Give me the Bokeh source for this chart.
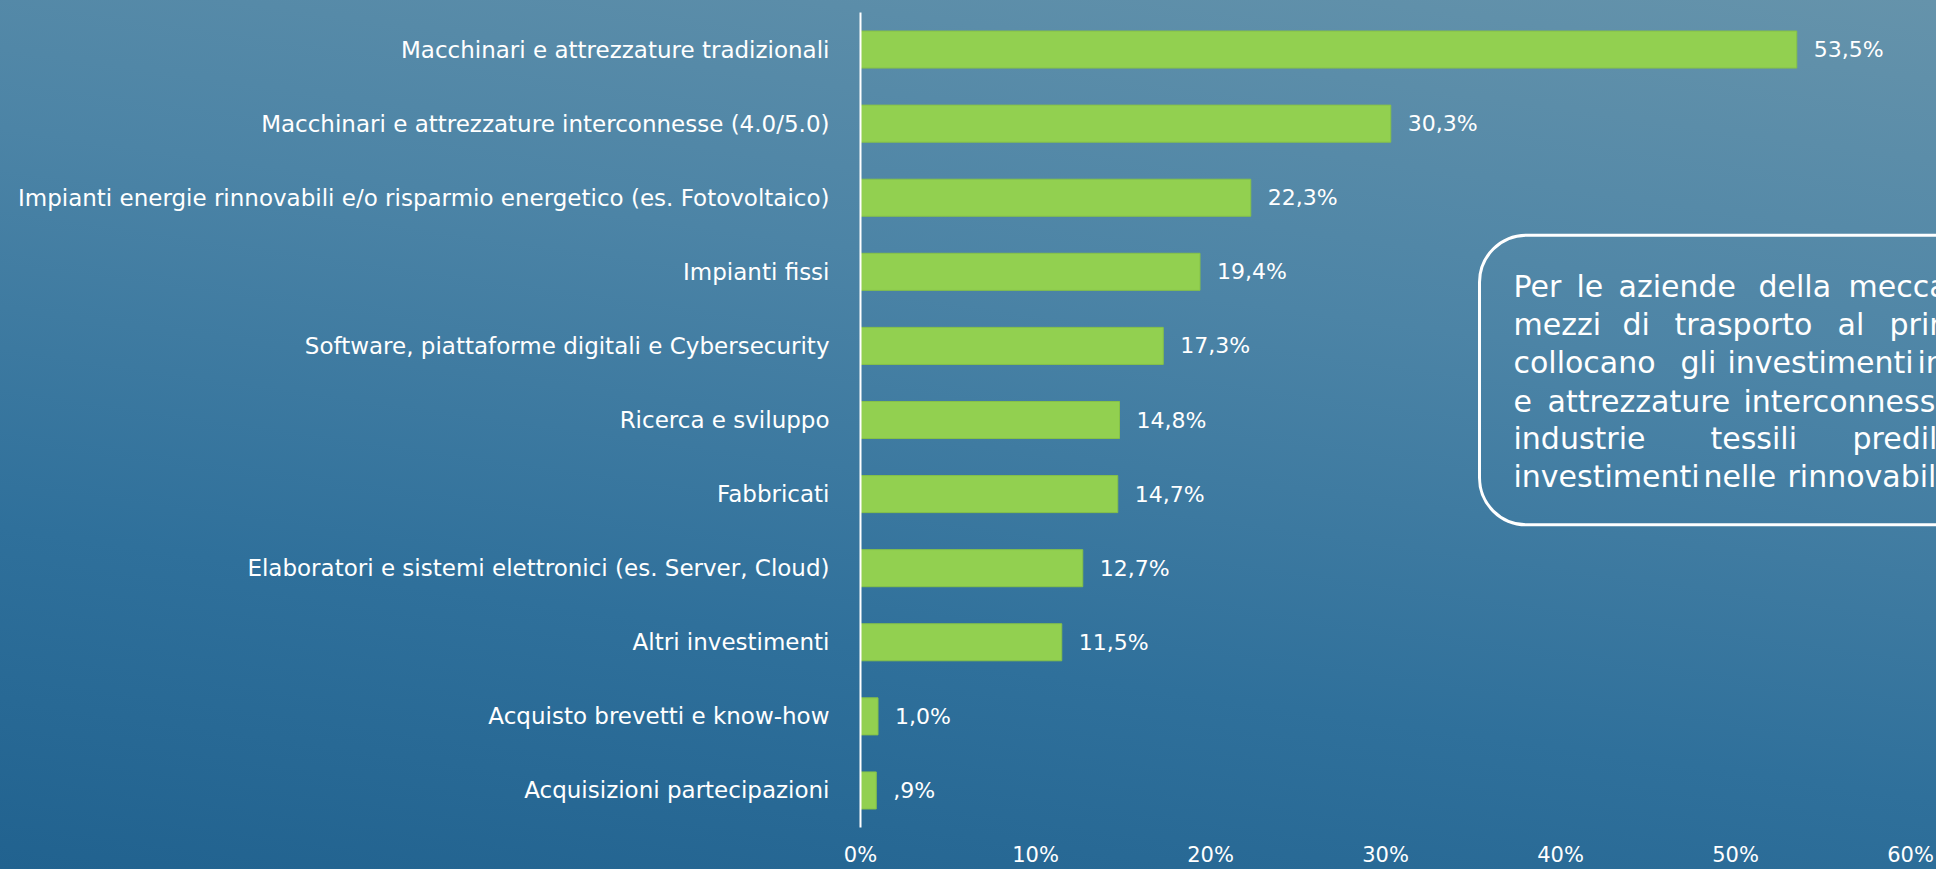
from bokeh.plotting import figure
from bokeh.models import FactorRange, Range1d, BoxAnnotation, FixedTicker
from bokeh.core.properties import value
from bokeh.embed import file_html
from bokeh.resources import INLINE

# ---------------- data ----------------
categories = [
    "Macchinari e attrezzature tradizionali",
    "Macchinari e attrezzature interconnesse (4.0/5.0)",
    "Impianti energie rinnovabili e/o risparmio energetico (es. Fotovoltaico)",
    "Impianti fissi",
    "Software, piattaforme digitali e Cybersecurity",
    "Ricerca e sviluppo",
    "Fabbricati",
    "Elaboratori e sistemi elettronici (es. Server, Cloud)",
    "Altri investimenti",
    "Acquisto brevetti e know-how",
    "Acquisizioni partecipazioni",
]
values = [53.5, 30.3, 22.3, 19.4, 17.3, 14.8, 14.7, 12.7, 11.5, 1.0, 0.9]
x_ticks = [0, 10, 20, 30, 40, 50, 60]
x_tick_labels = ["0%", "10%", "20%", "30%", "40%", "50%", "60%"]

# visible part of the note (cut by the right edge, as in the original)
note_lines = [
    ["Per", "le", "aziende", "della", "meccanica"],
    ["mezzi", "di", "trasporto", "al", "primo"],
    ["collocano", "gli", "investimenti", "in"],
    ["e", "attrezzature", "interconnesse,"],
    ["industrie", "tessili", "prediligono"],
    ["investimenti", "nelle", "rinnovabili."],
]


def fmt(v):
    s = f"{v:.1f}".replace(".", ",")
    return s[1:] if s.startswith("0,") else s


value_labels = [fmt(v) + "%" for v in values]

# ---------------- layout ----------------
FONT = "DejaVu Sans"
W, H = 1936, 869
LEFT, TOP, BOTTOM = 860, 12, 41
FRAME_W = W - LEFT
FRAME_H = H - TOP - BOTTOM
PX_PER_PCT = 17.5
X_END = FRAME_W / PX_PER_PCT
N = len(categories)
PX_PER_CAT = FRAME_H / N


# pixel -> data helpers (for the note box/text only)
def dx(px):
    return (px - LEFT) / PX_PER_PCT


def dy(py):
    return N - (py - TOP) / PX_PER_CAT


p = figure(
    width=W, height=H,
    y_range=FactorRange(factors=categories[::-1]),
    x_range=Range1d(0, X_END),
    output_backend="svg", toolbar_location=None,
    min_border_left=LEFT, min_border_right=0,
    min_border_top=TOP, min_border_bottom=BOTTOM,
    border_fill_color=None, background_fill_color=None,
    outline_line_color=None,
)
p.styles = {"background": "linear-gradient(188deg, #6593ab 0%, #4c84a6 35%, #2f709b 70%, #21628f 100%)"}

p.xgrid.visible = False
p.ygrid.visible = False

xa = p.xaxis[0]
xa.ticker = FixedTicker(ticks=x_ticks)
xa.major_label_overrides = {t: l for t, l in zip(x_ticks, x_tick_labels)}
xa.axis_line_color = None
xa.major_tick_line_color = None
xa.minor_tick_line_color = None
xa.major_tick_out = 0
xa.major_label_standoff = 15
xa.major_label_text_color = "white"
xa.major_label_text_font = FONT
xa.major_label_text_font_size = "21px"

ya = p.yaxis[0]
ya.axis_line_color = "white"
ya.axis_line_width = 2
ya.major_tick_line_color = None
ya.minor_tick_line_color = None
ya.major_tick_out = 0
ya.major_label_standoff = 31
ya.major_label_text_color = "white"
ya.major_label_text_font = FONT
ya.major_label_text_font_size = "23px"

p.hbar(y=categories, left=0, right=values, height=0.5,
       fill_color="#92d050", line_color="#86c247", line_width=1)

p.text(x=values, y=categories, text=value_labels, x_offset=17,
       text_baseline="middle", text_align="left", text_color="white",
       text_font=value(FONT), text_font_size="22px")

# note box
p.add_layout(BoxAnnotation(left=dx(1479), right=dx(2100), top=dy(235), bottom=dy(525),
                           fill_alpha=0, line_color="white", line_alpha=1.0,
                           line_width=3, border_radius=47))

word_x = [
    [1513, 1576, 1618, 1758, 1848],
    [1513, 1622, 1674, 1837, 1889],
    [1513, 1680, 1727, 1917],
    [1513, 1547, 1743],
    [1513, 1710, 1852],
    [1513, 1703, 1787],
]
baselines = [286, 324, 362, 401, 439, 477]
wx, wy, wt = [], [], []
for words, xs, b in zip(note_lines, word_x, baselines):
    for w, x in zip(words, xs):
        wx.append(dx(x))
        wy.append(dy(b))
        wt.append(w)
p.text(x=wx, y=wy, text=wt, text_baseline="alphabetic", text_align="left",
       text_color="white", text_font=value(FONT), text_font_size="30px")

open("out.html", "w").write(file_html(p, INLINE))
